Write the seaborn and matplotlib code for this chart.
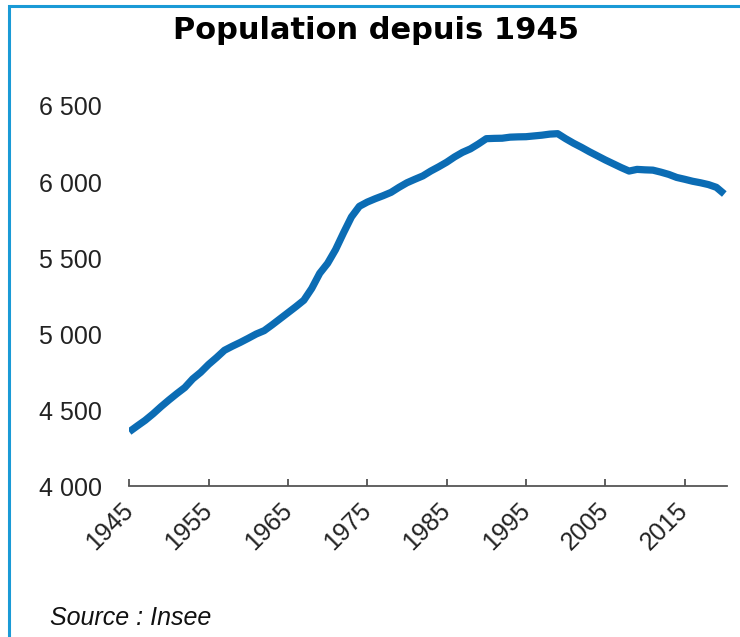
import matplotlib
matplotlib.use("Agg")
import matplotlib.pyplot as plt
import matplotlib.ticker as mticker
from matplotlib.patches import Rectangle
import seaborn as sns
import pandas as pd

years = list(range(1945, 2021))
population = [
    4357, 4395, 4432, 4475, 4522, 4566, 4608, 4648, 4705, 4748,
    4800, 4845, 4893, 4920, 4945, 4972, 5000, 5022, 5060, 5100,
    5140, 5180, 5222, 5300, 5399, 5465, 5555, 5665, 5770, 5840,
    5868, 5890, 5910, 5932, 5965, 5995, 6018, 6040, 6072, 6100,
    6130, 6165, 6195, 6218, 6250, 6285, 6287, 6288, 6295, 6297,
    6298, 6303, 6308, 6315, 6318, 6285, 6255, 6228, 6199, 6172,
    6145, 6120, 6095, 6072, 6083, 6080, 6078, 6065, 6050, 6030,
    6018, 6005, 5995, 5983, 5965, 5921,
]
x_ticks = [1945, 1955, 1965, 1975, 1985, 1995, 2005, 2015]
y_ticks = [4000, 4500, 5000, 5500, 6000, 6500]
title = "Population depuis 1945"
source = "Source : Insee"

df = pd.DataFrame({"annee": years, "population": population})

sns.set_theme(style="white")
plt.rcParams["font.family"] = ["Liberation Sans", "DejaVu Sans"]

fig = plt.figure(figsize=(7.4, 6.37), dpi=100)
ax = fig.add_axes([0.1747, 0.237, 0.8073, 0.5966])

sns.lineplot(data=df, x="annee", y="population", ax=ax,
             color="#0b6cb4", linewidth=5.2, solid_capstyle="butt")

ax.set_xlim(1945, 2020.3)
ax.set_ylim(4000, 6500)
ax.set_xticks(x_ticks)
ax.set_yticks(y_ticks)
ax.yaxis.set_major_formatter(mticker.FuncFormatter(lambda v, p: f"{int(v):,}".replace(",", " ")))
ax.set_xlabel("")
ax.set_ylabel("")

for s in ["left", "right", "top"]:
    ax.spines[s].set_visible(False)
ax.spines["bottom"].set_color("#555555")
ax.spines["bottom"].set_linewidth(1.3)

ax.tick_params(axis="x", which="major", direction="in", length=5, width=1.2,
               color="#444444", bottom=True, labelsize=18, pad=15, labelcolor="#222222")
ax.tick_params(axis="y", which="major", length=0, labelsize=18, pad=19.5, labelcolor="#222222")
for lab in ax.get_xticklabels():
    lab.set_rotation(45)
    lab.set_ha("right")
    lab.set_va("center")
    lab.set_rotation_mode("anchor")

fig.text(0.508, 1 - 39 / 637, title, ha="center", va="baseline", fontsize=22,
         fontweight="bold", color="black", family=["DejaVu Sans"])
fig.text(0.068, 1 - 625 / 637, source, ha="left", va="baseline", fontsize=18,
         style="italic", color="#111111")

fig.add_artist(Rectangle((8.5 / 740, -0.2), 1.2, 1.2 - 6.5 / 637,
                         transform=fig.transFigure, fill=False,
                         edgecolor="#1a9ad6", linewidth=2.2, clip_on=False))

fig.savefig("out.png", dpi=100)
